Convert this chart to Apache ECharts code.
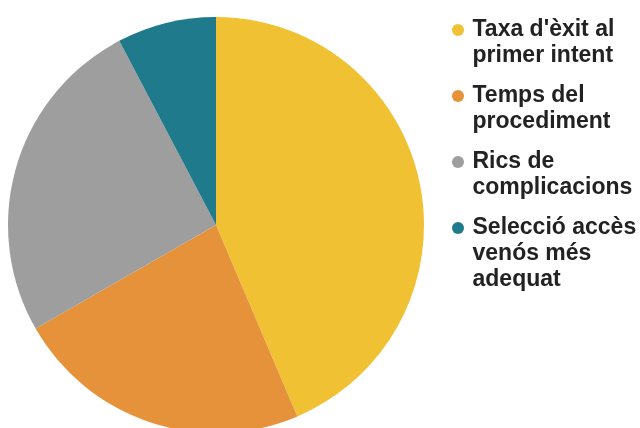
<!DOCTYPE html>
<html>
<head>
<meta charset="utf-8">
<script src="https://cdn.jsdelivr.net/npm/echarts@6/dist/echarts.min.js"></script>
<style>
html, body { margin: 0; padding: 0; background: #fff; }
#main { width: 640px; height: 428px; }
</style>
</head>
<body>
<div id="main"></div>
<script>
// dades
var categories = ["Taxa d'èxit al\nprimer intent", 'Temps del\nprocediment', 'Rics de\ncomplicacions', 'Selecció accès\nvenós més\nadequat'];
var values = [43.6, 23.1, 25.6, 7.7];
var colors = ['#f0c233', '#e6923a', '#9e9e9e', '#1f7a8c'];
var iconY = [30, 96, 162, 228];   // centre de la icona de cada entrada

var lineH = 26;
var chart = echarts.init(document.getElementById('main'));

var pieData = [];
var legends = [];
categories.forEach(function (name, i) {
    pieData.push({ name: name, value: values[i], itemStyle: { color: colors[i] } });
    var nLines = name.split('\n').length;
    var blanks = new Array(nLines).join('\n');   // línies buides al davant: la icona queda a la primera línia
    legends.push({
        orient: 'vertical',
        left: 452,
        top: iconY[i] - (2 * nLines - 1) * lineH / 2,
        padding: 0,
        itemWidth: 19,
        itemHeight: 12,
        icon: 'circle',
        formatter: function (n) { return blanks + n; },
        textStyle: {
            fontFamily: 'Liberation Sans',
            fontSize: 23,
            fontWeight: 'bold',
            lineHeight: lineH,
            color: '#222'
        },
        data: [name]
    });
});

var option = {
    animation: false,
    legend: legends,
    series: [{
        type: 'pie',
        center: [216, 225],
        radius: 208,
        startAngle: 90,
        clockwise: true,
        label: { show: false },
        labelLine: { show: false },
        emphasis: { disabled: true },
        data: pieData
    }]
};
chart.setOption(option);
</script>
</body>
</html>
